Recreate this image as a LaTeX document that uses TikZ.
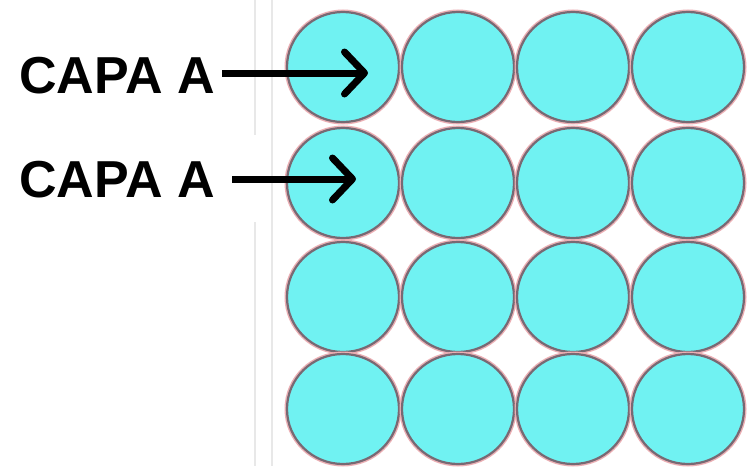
\documentclass[tikz,border=0pt]{standalone}
\usepackage{fontspec}
\setmainfont{Liberation Sans}
\usetikzlibrary{arrows.meta,shapes.geometric}
\definecolor{ballfill}{RGB}{112,242,242}
\definecolor{balledge}{RGB}{120,105,115}
\definecolor{ballhalo}{RGB}{235,175,180}
\definecolor{faint}{RGB}{232,232,232}
\tikzset{
  ball/.style={ellipse, minimum width=112pt, minimum height=110pt, inner sep=0pt,
    fill=ballfill, draw=balledge, line width=2.2pt,
    preaction={draw=ballhalo, line width=5pt}},
  label/.style={font=\fontsize{52}{62}\selectfont\bfseries, inner sep=0pt, anchor=base west},
  pointer/.style={line width=7pt, -{Straight Barb[length=20pt,width=42pt,round]}},
  guide/.style={draw=faint, line width=2pt}
}
\begin{document}
\begin{tikzpicture}[x=1pt,y=1pt]
\useasboundingbox (0,0) rectangle (749,-466);
\fill[white] (0,0) rectangle (749,-466);
% faint guide lines
\draw[guide] (255,0) -- (255,-135);
\draw[guide] (255,-222) -- (255,-466);
\draw[guide] (272,0) -- (272,-466);
% balls
\foreach \r/\y in {1/67,2/183,3/297,4/409}{
  \foreach \c/\x in {1/343,2/458,3/573,4/688}{
    \node[ball] (b\r\c) at (\x,-\y) {};
  }
}
% labels
\node[label] (t1) at (19,-93) {CAPA A};
\node[label] (t2) at (19,-197) {CAPA A};
\coordinate (s1) at (222,-73);
\coordinate (e1) at (368,-73);
\coordinate (s2) at (232,-179);
\coordinate (e2) at (356,-179);
\draw[pointer] (s1) -- (e1);
\draw[pointer] (s2) -- (e2);
\end{tikzpicture}
\end{document}
